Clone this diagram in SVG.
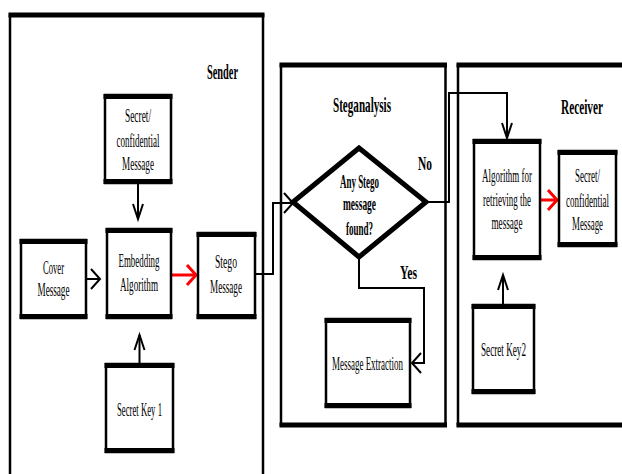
<svg xmlns="http://www.w3.org/2000/svg" width="622" height="474" viewBox="0 0 622 474">
<style>
  text { font-family: "Liberation Serif", "Times New Roman", serif; font-size: 19.5px; text-anchor: middle; fill: #000; }
  .title { font-size: 22px; font-weight: bold; }
  .bold { font-weight: bold; }
  .box { fill: #fff; stroke: #000; stroke-width: 2.5; }
  .edge { fill: none; stroke: #000; stroke-width: 5; }
  .panel { fill: none; stroke: #000; stroke-width: 2.5; }
  .conn { fill: none; stroke: #000; stroke-width: 2; }
  .red { fill: none; stroke: #f00; stroke-width: 3; }
</style>
<defs>
  <marker id="av" markerUnits="userSpaceOnUse" markerWidth="20" markerHeight="14" refX="16" refY="6" orient="auto" overflow="visible">
    <path d="M1,1 L16,6 L1,11" fill="none" stroke="#000" stroke-width="2"/>
  </marker>
  <marker id="ah" markerUnits="userSpaceOnUse" markerWidth="14" markerHeight="24" refX="10" refY="11" orient="auto" overflow="visible">
    <path d="M1,1 L10,11 L1,21" fill="none" stroke="#000" stroke-width="2"/>
  </marker>
  <marker id="ar" markerUnits="userSpaceOnUse" markerWidth="14" markerHeight="24" refX="10" refY="10" orient="auto" overflow="visible">
    <path d="M1,0 L10,10 L1,20" fill="none" stroke="#f00" stroke-width="3"/>
  </marker>
</defs>
<rect x="0" y="0" width="622" height="474" fill="#fff"/>

<!-- Panels -->
<g id="panel-sender">
  <path class="panel" d="M10,474 V15 H263 V474"/>
  <path class="edge" d="M8.5,15 H264.5"/>
  <text class="title" x="222.5" y="79" textLength="31" lengthAdjust="spacingAndGlyphs">Sender</text>
</g>
<g id="panel-steganalysis">
  <rect class="panel" x="281" y="65" width="164.5" height="360"/>
  <path class="edge" d="M279.5,65 H447 M279.5,425 H447"/>
  <text class="title" x="362" y="112" textLength="58" lengthAdjust="spacingAndGlyphs">Steganalysis</text>
</g>
<g id="panel-receiver">
  <path class="panel" d="M625,65 H458 V425 H625"/>
  <path class="edge" d="M456.5,65 H625 M456.5,425 H625"/>
  <text class="title" x="582" y="114" textLength="42" lengthAdjust="spacingAndGlyphs">Receiver</text>
</g>

<!-- Connectors -->
<g id="connectors">
  <path class="conn" d="M138,184 V219" marker-end="url(#av)"/>
  <path class="conn" d="M87,279 H100" marker-end="url(#ah)"/>
  <path class="conn" d="M139.5,363 V335" marker-end="url(#av)"/>
  <path class="red" d="M172,275 H196" marker-end="url(#ar)"/>
  <path class="conn" d="M256,274 H273 V203 H293" marker-end="url(#ah)"/>
  <path class="conn" d="M426,202 H449 V93 H507 V138" marker-end="url(#av)"/>
  <path class="conn" d="M359,257 V288 H424 V363 H412" marker-end="url(#ah)"/>
  <path class="red" d="M541,200 H557" marker-end="url(#ar)"/>
  <path class="conn" d="M503,304 V275" marker-end="url(#av)"/>
  <text class="bold" x="425" y="170" textLength="14" lengthAdjust="spacingAndGlyphs">No</text>
  <text class="bold" x="408.5" y="279" textLength="17" lengthAdjust="spacingAndGlyphs">Yes</text>
</g>

<!-- Nodes -->
<g id="node-secret-sender">
  <rect class="box" x="105" y="95" width="66" height="88"/>
  <path class="edge" d="M103.5,96.5 H172.5 M103.5,181.5 H172.5"/>
  <text x="138" y="122" textLength="26" lengthAdjust="spacingAndGlyphs">Secret/</text>
  <text x="138" y="147" textLength="43" lengthAdjust="spacingAndGlyphs">confidential</text>
  <text x="138" y="170" textLength="32" lengthAdjust="spacingAndGlyphs">Message</text>
</g>
<g id="node-cover">
  <rect class="box" x="21" y="240" width="65" height="78"/>
  <path class="edge" d="M19.5,241.5 H87.5 M19.5,316.5 H87.5"/>
  <text x="53.5" y="274" textLength="21" lengthAdjust="spacingAndGlyphs">Cover</text>
  <text x="53.5" y="296" textLength="32" lengthAdjust="spacingAndGlyphs">Message</text>
</g>
<g id="node-embedding">
  <rect class="box" x="107" y="229" width="64" height="89"/>
  <path class="edge" d="M105.5,230.5 H172.5 M105.5,316.5 H172.5"/>
  <text x="139" y="267" textLength="41" lengthAdjust="spacingAndGlyphs">Embedding</text>
  <text x="139" y="291" textLength="38" lengthAdjust="spacingAndGlyphs">Algorithm</text>
</g>
<g id="node-stego">
  <rect class="box" x="198" y="233" width="57" height="85"/>
  <path class="edge" d="M196.5,234.5 H256.5 M196.5,316.5 H256.5"/>
  <text x="226" y="268" textLength="22" lengthAdjust="spacingAndGlyphs">Stego</text>
  <text x="226" y="293" textLength="32" lengthAdjust="spacingAndGlyphs">Message</text>
</g>
<g id="node-key1">
  <rect class="box" x="106" y="364" width="67" height="88"/>
  <path class="edge" d="M104.5,365.5 H174.5 M104.5,450.5 H174.5"/>
  <text x="139.5" y="416" textLength="45" lengthAdjust="spacingAndGlyphs">Secret Key 1</text>
</g>
<g id="node-decision">
  <polygon points="359,148 426,202 359,257 293,202" fill="#fff" stroke="#000" stroke-width="5" stroke-linejoin="miter"/>
  <text class="bold" x="359.5" y="188" textLength="39" lengthAdjust="spacingAndGlyphs">Any Stego</text>
  <text class="bold" x="359.5" y="210" textLength="33" lengthAdjust="spacingAndGlyphs">message</text>
  <text class="bold" x="359.5" y="235" textLength="27" lengthAdjust="spacingAndGlyphs">found?</text>
</g>
<g id="node-extraction">
  <rect class="box" x="326" y="319" width="84" height="88"/>
  <path class="edge" d="M324.5,320.5 H411.5 M324.5,405.5 H411.5"/>
  <text x="367.5" y="370" textLength="71" lengthAdjust="spacingAndGlyphs">Message Extraction</text>
</g>
<g id="node-retrieve">
  <rect class="box" x="474" y="140" width="66" height="119"/>
  <path class="edge" d="M472.5,141.5 H541.5 M472.5,257.5 H541.5"/>
  <text x="507" y="182" textLength="50" lengthAdjust="spacingAndGlyphs">Algorithm for</text>
  <text x="507" y="206" textLength="48" lengthAdjust="spacingAndGlyphs">retrieving the</text>
  <text x="507" y="229" textLength="31" lengthAdjust="spacingAndGlyphs">message</text>
</g>
<g id="node-secret-receiver">
  <rect class="box" x="559" y="151" width="57" height="95"/>
  <path class="edge" d="M557.5,152.5 H617.5 M557.5,244.5 H617.5"/>
  <text x="587.5" y="182" textLength="25" lengthAdjust="spacingAndGlyphs">Secret/</text>
  <text x="587.5" y="207" textLength="43" lengthAdjust="spacingAndGlyphs">confidential</text>
  <text x="587.5" y="230" textLength="31" lengthAdjust="spacingAndGlyphs">Message</text>
</g>
<g id="node-key2">
  <rect class="box" x="473" y="305" width="61" height="88"/>
  <path class="edge" d="M471.5,306.5 H535.5 M471.5,391.5 H535.5"/>
  <text x="503.5" y="356" textLength="45" lengthAdjust="spacingAndGlyphs">Secret Key2</text>
</g>
</svg>
